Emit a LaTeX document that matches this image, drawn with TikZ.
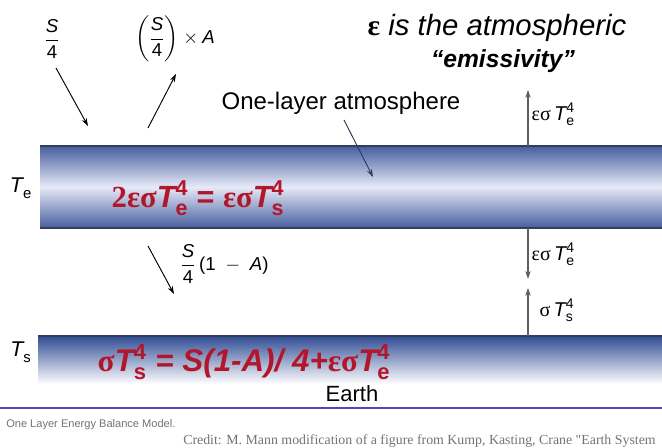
\documentclass[tikz,border=0pt]{standalone}
\usepackage{amsmath}
\usepackage{fontspec}
\setmainfont{Liberation Sans}
\newfontfamily\grkfont{Liberation Serif}
\usetikzlibrary{arrows.meta,positioning}
\definecolor{cband}{RGB}{70,94,158}
\definecolor{cbandlt}{RGB}{230,233,247}
\definecolor{cedge}{RGB}{50,60,92}
\definecolor{cearth}{RGB}{48,76,148}
\definecolor{ceq}{RGB}{178,22,42}
\definecolor{cflux}{RGB}{95,95,95}
\definecolor{crule}{RGB}{88,68,178}
\definecolor{ccap}{RGB}{115,115,115}
\newcommand{\gk}[1]{{\grkfont #1}}
\newcommand{\Tq}[2]{\textit{T}_{\text{\upshape #1}}^{\text{\upshape #2}}}

\begin{document}
\begin{tikzpicture}[x=0.75pt,y=-0.75pt,
    ray/.style={-{Stealth[length=6pt,width=4pt]}, black, line width=0.7pt},
    flux/.style={-{Stealth[length=6pt,width=4pt]}, cflux, line width=0.8pt},
    fluxlbl/.style={right, inner sep=1pt, font=\fontsize{15}{17}\selectfont},
    fraclbl/.style={inner sep=0pt, font=\fontsize{14}{16}\selectfont},
    eqlbl/.style={ceq, inner sep=0pt, font=\fontsize{23}{25}\selectfont\bfseries}]
  \useasboundingbox (0,0) rectangle (662,448);
  % atmosphere and earth
  \shade[top color=cband, bottom color=cband, middle color=cbandlt] (40,146) rectangle (662,228);
  \draw[cedge, line width=0.9pt] (40,146) -- (662,146) (40,228) -- (662,228);
  \shade[top color=cearth, middle color=cearth!45, bottom color=white] (38,336) rectangle (662,384);
  \draw[cedge, line width=0.9pt] (38,336) -- (662,336);
  \draw[crule, line width=1.6pt] (0,408) -- (662,408);

  \node[font=\fontsize{16}{18}\selectfont] (te) at (21,188) {$\Tq{e}{}$};
  \node[font=\fontsize{16}{18}\selectfont] (ts) at (21,352) {$\Tq{s}{}$};

  % solar in and reflected
  \node[fraclbl] (sin) at (52,39) {$\dfrac{\textit{S}}{\text{4}}$};
  \node[fraclbl] (sref) at (175,39)
       {$\biggl(\dfrac{\textit{S}}{\text{4}}\biggr)\times\textit{A}$};
  \coordinate (sinTail) at (56,68);
  \coordinate (sinTip) at (88,126);
  \coordinate (srefTail) at (148,128);
  \coordinate (srefTip) at (176,74);
  \draw[ray] (sinTail) -- (sinTip);
  \draw[ray] (srefTail) -- (srefTip);

  \node[fraclbl, right] (sabs) at (180,264)
       {$\dfrac{\textit{S}}{\text{4}}\,\text{(1}\;-\;\textit{A}\text{)}$};
  \coordinate (sabsTail) at (148,246);
  \coordinate (sabsTip) at (174,294);
  \draw[ray] (sabsTail) -- (sabsTip);

  % labels
  \node[font=\fontsize{22}{24}\selectfont\itshape] (emisA) at (497,28)
       {\gk{\bfseries\upshape ε} is the atmospheric};
  \node[font=\fontsize{18.5}{22}\selectfont\bfseries\itshape] (emisB) at (503,61) {“emissivity”};
  \node[font=\fontsize{18}{20}\selectfont] (layer) at (341,103) {One-layer atmosphere};
  \coordinate (layerTail) at (344,120);
  \coordinate (layerTip) at (373,177);
  \draw[ray, draw=cedge, fill=cedge] (layerTail) -- (layerTip);

  \node[eqlbl] (eqatm) at (198,198)
       {$\text{\gk{2εσ}}\Tq{e}{4}\text{ = }\text{\gk{εσ}}\Tq{s}{4}$};
  \node[eqlbl, font=\fontsize{23.5}{26}\selectfont\bfseries\itshape] (eqsfc) at (244,362)
       {$\text{\gk{\upshape σ}}\Tq{s}{4}\text{ = S(1-A)/ 4+}\text{\gk{\upshape εσ}}\Tq{e}{4}$};
  \node[font=\fontsize{16.5}{20}\selectfont] (earth) at (352,394) {Earth};

  % longwave fluxes
  \coordinate (atmUp) at (528,146);
  \coordinate (atmUpTip) at (528,90);
  \coordinate (atmDn) at (528,228);
  \coordinate (atmDnTip) at (528,279);
  \coordinate (sfcUp) at (528,336);
  \coordinate (sfcUpTip) at (528,288);
  \draw[flux] (atmUp) -- (atmUpTip);
  \draw[flux] (atmDn) -- (atmDnTip);
  \draw[flux] (sfcUp) -- (sfcUpTip);
  \node[fluxlbl] (atmUpLbl) at (530,114) {$\text{\gk{εσ}\,}\Tq{e}{4}$};
  \node[fluxlbl] (atmDnLbl) at (530,254) {$\text{\gk{εσ}\,}\Tq{e}{4}$};
  \node[fluxlbl] (sfcUpLbl) at (538,310) {$\text{\gk{σ}\,}\Tq{s}{4}$};

  % caption
  \node[ccap, right, inner sep=0pt, font=\fontsize{8.3}{10}\selectfont] (cap) at (6,425)
       {One Layer Energy Balance Model.};
  \node[ccap, right, inner sep=0pt, font=\grkfont\fontsize{10.4}{12}\selectfont] (credit) at (183,441)
       {Credit: M. Mann modification of a figure from Kump, Kasting, Crane "Earth System};
\end{tikzpicture}
\end{document}
